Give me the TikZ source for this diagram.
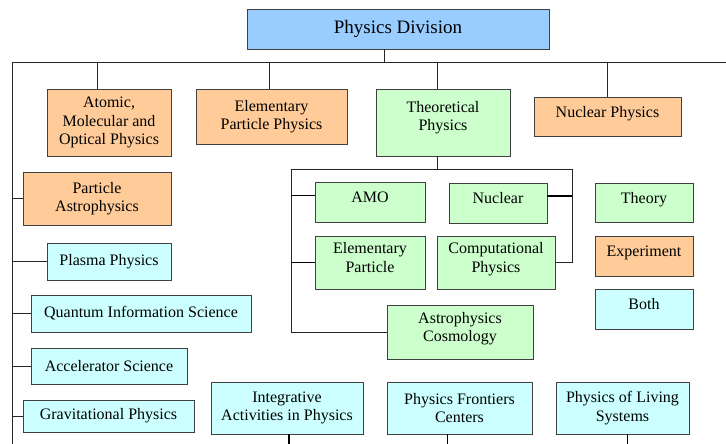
\documentclass[tikz,border=0pt]{standalone}
\usepackage{fontspec}
\setmainfont{Liberation Serif}
\usetikzlibrary{positioning}
\definecolor{divblue}{HTML}{99CCFF}
\definecolor{exporange}{HTML}{FFCC99}
\definecolor{theogreen}{HTML}{CCFFCC}
\definecolor{bothcyan}{HTML}{CCFFFF}
\definecolor{edge}{HTML}{404040}
\tikzset{
  unit/.style={
    draw=edge,
    line width=0.8pt,
    align=center,
    inner sep=0pt,
    font=\fontsize{16}{18.5}\selectfont
  },
  raised/.style={text depth=10pt},
  expt/.style={unit, fill=exporange},
  theo/.style={unit, raised, fill=theogreen},
  both/.style={unit, fill=bothcyan},
  link/.style={draw=black!85, line width=0.8pt},
  heavylink/.style={draw=black, line width=1.6pt}
}
\begin{document}
\begin{tikzpicture}[x=1pt, y=-1pt]
\useasboundingbox (0,0) rectangle (726,444);

% Division head and the bus that feeds every section.
\node[unit, fill=divblue, minimum width=302pt, minimum height=40pt,
  font=\fontsize{19}{22}\selectfont] (division) at (398,29) {Physics Division};
\coordinate (busL) at (12,62);
\coordinate (busR) at (726,62);
\coordinate (spineEnd) at (12,444);

% Top row of sections.
\node[expt, minimum width=124pt, minimum height=67pt] (amop) at (109,122.5)
  {Atomic,\\Molecular and\\Optical Physics};
\node[expt, minimum width=151pt, minimum height=55pt] (epp) at (271.5,116.5)
  {Elementary\\Particle Physics};
\node[theo, text depth=13pt, minimum width=134pt, minimum height=67pt] (theory) at (443,122.5)
  {Theoretical\\Physics};
\node[expt, raised, minimum width=147pt, minimum height=39pt] (nucphys) at (607.5,116.5)
  {Nuclear Physics};

% Sections hanging off the left spine.
\node[expt, minimum width=148pt, minimum height=53pt] (pastro) at (97,198.5)
  {Particle\\Astrophysics};
\node[both, minimum width=124pt, minimum height=37pt] (plasma) at (109,261.5)
  {Plasma Physics};
\node[both, minimum width=220pt, minimum height=37pt] (qis) at (141,313.5)
  {Quantum Information Science};
\node[both, minimum width=156pt, minimum height=36pt] (accel) at (109,366)
  {Accelerator Science};
\node[both, minimum width=171pt, minimum height=32pt] (grav) at (108.5,416)
  {Gravitational Physics};

% Theory sub-groups.
\node[theo, minimum width=110pt, minimum height=40pt] (amo) at (370,202.5) {AMO};
\node[theo, minimum width=98pt, minimum height=40pt] (nuclear) at (498,203) {Nuclear};
\node[theo, minimum width=110pt, minimum height=53pt] (elpart) at (370,262.5)
  {Elementary\\Particle};
\node[theo, minimum width=118pt, minimum height=53pt] (comp) at (496,262.5)
  {Computational\\Physics};
\node[theo, minimum width=146pt, minimum height=54pt] (astro) at (460,332)
  {Astrophysics\\Cosmology};
\coordinate (tL) at (291,169);
\coordinate (tR) at (572,169);

% Key.
\node[theo, minimum width=98pt, minimum height=39pt] (keytheo) at (644,202.5) {Theory};
\node[expt, raised, minimum width=98pt, minimum height=40pt] (keyexpt) at (644,256) {Experiment};
\node[both, raised, minimum width=98pt, minimum height=40pt] (keyboth) at (644,309) {Both};

% Bottom row.
\node[both, minimum width=152pt, minimum height=52pt] (integ) at (287,408)
  {Integrative\\Activities in Physics};
\node[both, minimum width=145pt, minimum height=52pt] (pfc) at (459.5,408)
  {Physics Frontiers\\Centers};
\node[both, minimum width=133pt, minimum height=52pt] (pls) at (622.5,408)
  {Physics of Living\\Systems};

% Bus and spine.
\draw[link] ([xshift=-14pt]division.south) -- ([xshift=-14pt]division.south |- busL);
\draw[link] (busL) -- (busR);
\draw[link] (busL) -- (spineEnd);
\draw[link] ([xshift=-12pt]amop.north) -- ([xshift=-12pt]amop.north |- busL);
\draw[link] ([xshift=-2pt]epp.north) -- ([xshift=-2pt]epp.north |- busL);
\draw[link] ([xshift=-6pt]theory.north) -- ([xshift=-6pt]theory.north |- busL);
\draw[link] (nucphys.north) -- (nucphys.north |- busL);
\foreach \sec in {pastro,plasma,qis,accel,grav}
  \draw[link] (\sec.west) -- (\sec.west -| busL);

% Theory tree.
\draw[link] ([xshift=-6pt]theory.south) -- ([xshift=-6pt]theory.south |- tL);
\draw[link] (tL) -- (tR);
\draw[link] (tL) -- (tL |- astro.west) -- (astro.west);
\draw[link] (tR) -- (tR |- comp.east) -- (comp.east);
\draw[heavylink] ([yshift=7pt]amo.west) -- ([yshift=7pt]amo.west -| tL);
\draw[heavylink] (elpart.west) -- (elpart.west -| tL);
\draw[heavylink] ([yshift=7pt]nuclear.east) -- ([yshift=7pt]nuclear.east -| tR);

% Bottom row runs off the page.
\draw[heavylink] ([xshift=2pt]integ.south) -- ([xshift=2pt]integ.south |- spineEnd);
\draw[heavylink] ([xshift=-12pt]pfc.south) -- ([xshift=-12pt]pfc.south |- spineEnd);
\draw[heavylink] ([xshift=5pt]pls.south) -- ([xshift=5pt]pls.south |- spineEnd);
\end{tikzpicture}
\end{document}
